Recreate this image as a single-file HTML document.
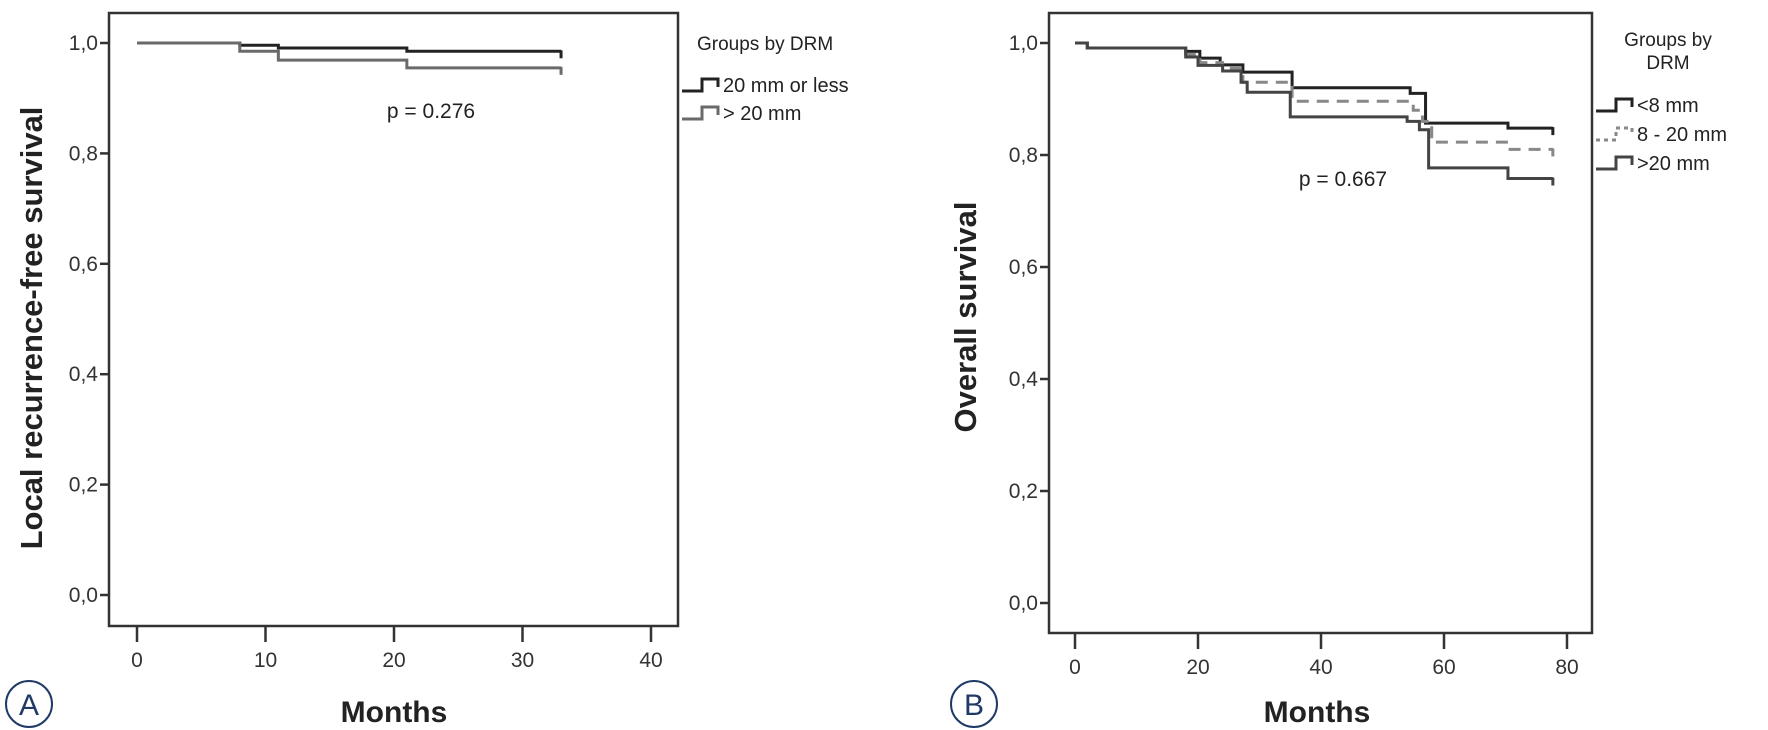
<!DOCTYPE html>
<html><head><meta charset="utf-8"><style>
body{margin:0;background:#fff}
svg{display:block;font-family:"Liberation Sans",Arial,sans-serif}
</style></head><body>
<svg id="c" width="1768" height="730" viewBox="0 0 1768 730">
<g id="gA"></g>
<g id="gB"></g>
</svg>
<script>
// Panel A data
const aTicksX = [0,10,20,30,40];
const aTicksY = [0,0.2,0.4,0.6,0.8,1.0];
const aBlackT = [8,11,21];
const aBlackS = [0.996,0.991,0.985];
const aBlackEnd = 33;
const aGrayT = [8,11,21];
const aGrayS = [0.985,0.969,0.955];
const aGrayEnd = 33;
// Panel B data
const bTicksX = [0,20,40,60,80];
const bTicksY = [0,0.2,0.4,0.6,0.8,1.0];
const bLt8T = [2,18,20.3,23.6,27.3,35.3,54.5,57,70.4];
const bLt8S = [0.991,0.985,0.973,0.961,0.948,0.92,0.91,0.857,0.848];
const bLt8End = 77.7;
const bMidT = [2,18,20.3,24,27.3,35.3,55,56.5,58,70.4];
const bMidS = [0.991,0.98,0.965,0.955,0.93,0.896,0.88,0.86,0.823,0.81];
const bMidEnd = 77.7;
const bGt20T = [2,18,20,24,27,28,35,54,56,57.5,70.4];
const bGt20S = [0.991,0.975,0.96,0.95,0.93,0.912,0.868,0.86,0.845,0.777,0.758];
const bGt20End = 77.7;

const NS='http://www.w3.org/2000/svg';
function mk(parent,tag,attrs,text){const e=document.createElementNS(NS,tag);for(const k in attrs)e.setAttribute(k,attrs[k]);if(text!==undefined)e.textContent=text;parent.appendChild(e);return e;}

function panel(g,cfg){
  const xs=t=>cfg.x0+t*cfg.px;
  const ys=v=>cfg.y0-v*cfg.py;
  const frame=mk(g,'rect',{x:cfg.left,y:13,width:cfg.right-cfg.left,height:cfg.bottom-13,fill:'none',stroke:'#333','stroke-width':2.5});
  
  
  cfg.ty.forEach(v=>{
    const y=ys(v);
    const tk=mk(g,'line',{x1:cfg.left-9,x2:cfg.left,y1:y,y2:y,stroke:'#333','stroke-width':2.5});
    
    
    const lb=mk(g,'text',{x:cfg.left-11,y:y+7,'text-anchor':'end','font-size':21,fill:'#333'},v.toFixed(1).replace('.',','));
    
    
  });
  cfg.tx.forEach(t=>{
    const x=xs(t);
    const tk=mk(g,'line',{x1:x,x2:x,y1:cfg.bottom,y2:cfg.bottom+16,stroke:'#333','stroke-width':2.5});
    
    
    const lb=mk(g,'text',{x:x,y:cfg.bottom+41,'text-anchor':'middle','font-size':21,fill:'#333'},String(t));
    
    
  });
  const xt=mk(g,'text',{x:cfg.mx,y:722,'text-anchor':'middle','font-size':30,'font-weight':'bold',fill:'#222'},'Months');
  
  
  const yt=mk(g,'text',{x:cfg.tx0,y:cfg.tyc,'text-anchor':'middle','font-size':31,'font-weight':'bold',fill:'#222',transform:`rotate(-90 ${cfg.tx0} ${cfg.tyc})`},cfg.ytitle);
  
  
  cfg.series.forEach(s=>{
    let d=`M${xs(0)},${ys(1)}`;
    s.t.forEach((t,i)=>{d+=` H${xs(t)} V${ys(s.s[i])}`;});
    d+=` H${xs(s.end)}`;
    const p=mk(g,'path',{d:d,fill:'none',stroke:s.c,'stroke-width':3,'stroke-dasharray':s.dash||'none'});
    
    
    const last=s.s[s.s.length-1];
    const cz=mk(g,'line',{x1:xs(s.end),x2:xs(s.end),y1:ys(last)-1,y2:ys(last)+7,stroke:s.c,'stroke-width':3});
    
    
  });
  const pv=mk(g,'text',{x:cfg.pX,y:cfg.pY,'text-anchor':'middle','font-size':21,fill:'#222'},cfg.pText);
  
  
  const ttl=cfg.legTitle;
  ttl.forEach((line,i)=>{
    const t=mk(g,'text',{x:cfg.legTX,y:cfg.legTY+i*23,'text-anchor':cfg.legAnchor,'font-size':19,fill:'#222'},line);
    
    
  });
  cfg.series.forEach((s,i)=>{
    const y=cfg.legY0+i*cfg.legDy;
    const lx=cfg.right;
    const sym=mk(g,'path',{d:`M${lx+4},${y+6} H${lx+24} V${y-6} H${lx+40} V${y+2}`,fill:'none',stroke:s.c,'stroke-width':3,'stroke-dasharray':s.dash?'4 4':'none'});
    
    
    const t=mk(g,'text',{x:lx+45,y:y+7,'font-size':20,fill:'#222'},s.label);
    
    
  });
  const circ=mk(g,'circle',{cx:cfg.cx,cy:704,r:23,fill:'none',stroke:'#1f3a66','stroke-width':2});
  
  
  const cl=mk(g,'text',{x:cfg.cx,y:715,'text-anchor':'middle','font-size':30,fill:'#1f3a66'},cfg.letter);
  
  
}

panel(document.getElementById('gA'),{
  left:109,right:678,bottom:626,x0:137,px:12.85,y0:595,py:552,
  tx:aTicksX,ty:aTicksY,mx:394,tx0:42,tyc:328,ytitle:'Local recurrence-free survival',
  pX:431,pY:118,pText:'p = 0.276',
  legTitle:['Groups by DRM'],legTX:697,legTY:50,legAnchor:'start',legY0:85,legDy:28,
  cx:29,letter:'A',
  series:[
    {name:'curve-20mm-or-less',label:'20 mm or less',t:aBlackT,s:aBlackS,end:aBlackEnd,c:'#222'},
    {name:'curve-over-20mm',label:'> 20 mm',t:aGrayT,s:aGrayS,end:aGrayEnd,c:'#6a6a6a'}
  ]
});
panel(document.getElementById('gB'),{
  left:1049,right:1592,bottom:633,x0:1075,px:6.15,y0:603,py:560,
  tx:bTicksX,ty:bTicksY,mx:1317,tx0:976,tyc:317,ytitle:'Overall survival',
  pX:1343,pY:186,pText:'p = 0.667',
  legTitle:['Groups by','DRM'],legTX:1668,legTY:46,legAnchor:'middle',legY0:105,legDy:29,
  cx:974,letter:'B',
  series:[
    {name:'curve-under-8mm',label:'<8 mm',t:bLt8T,s:bLt8S,end:bLt8End,c:'#222'},
    {name:'curve-8-20mm',label:'8 - 20 mm',t:bMidT,s:bMidS,end:bMidEnd,c:'#888',dash:'12 8'},
    {name:'curve-over-20mm',label:'>20 mm',t:bGt20T,s:bGt20S,end:bGt20End,c:'#444'}
  ]
});
</script>
</body></html>
